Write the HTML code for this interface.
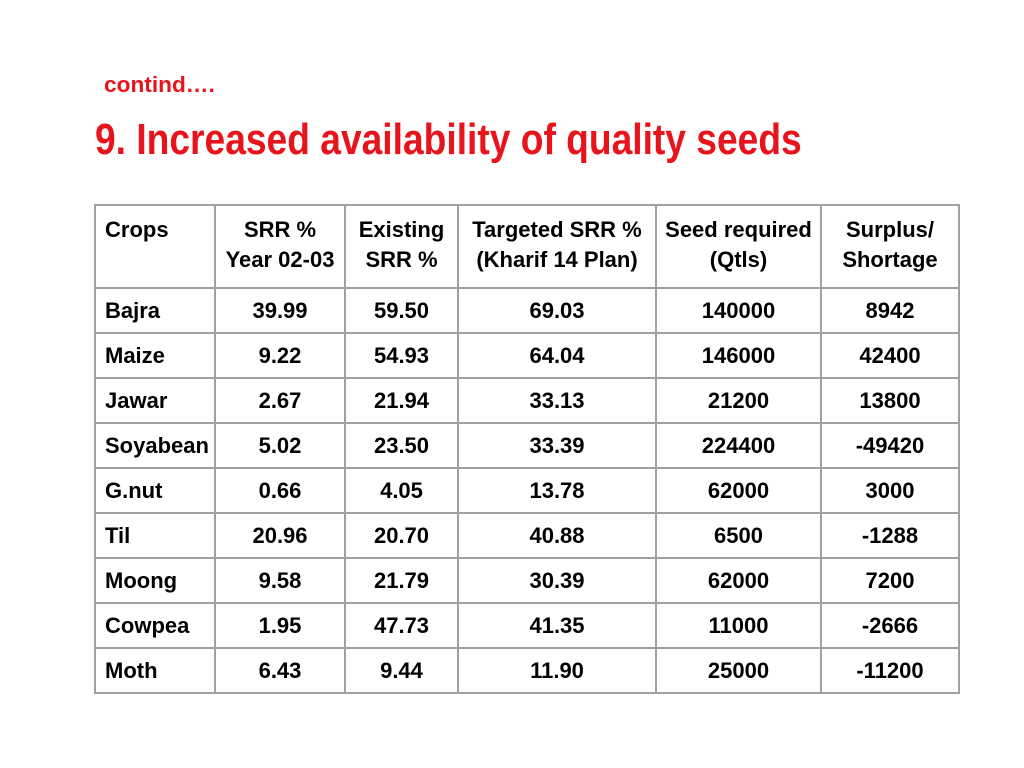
<!DOCTYPE html>
<html><head><meta charset="utf-8"><style>
body{margin:0;width:1024px;height:768px;background:#fff;position:relative;overflow:hidden;font-family:"Liberation Sans Narrow","Liberation Sans",sans-serif;font-weight:bold;}
.sub{position:absolute;left:104px;top:72px;color:#e8141b;font-size:22px;transform:scaleX(1.03);transform-origin:left top;}
.title{position:absolute;left:95px;top:115px;color:#e8141b;font-size:44px;white-space:nowrap;transform:scaleX(0.845);transform-origin:left top;}
table{position:absolute;left:94px;top:204px;border-collapse:collapse;font-size:22px;color:#000;}
td{border:2px solid #a0a0a0;text-align:center;padding:0;height:43px;line-height:26px;}
tr.h td{height:83px;vertical-align:top;padding-top:9px;line-height:30px;box-sizing:border-box;}
td:first-child{text-align:left;padding-left:9px;}
</style></head><body>
<div class="sub">contind….</div>
<div class="title">9. Increased availability of quality seeds</div>
<table>
<colgroup><col style="width:120px"><col style="width:130px"><col style="width:113px"><col style="width:198px"><col style="width:165px"><col style="width:138px"></colgroup>
<tr class="h"><td>Crops</td><td>SRR %<br>Year 02-03</td><td>Existing<br>SRR %</td><td>Targeted SRR %<br>(Kharif 14 Plan)</td><td>Seed required<br>(Qtls)</td><td>Surplus/<br>Shortage</td></tr>
<tr><td>Bajra</td><td>39.99</td><td>59.50</td><td>69.03</td><td>140000</td><td>8942</td></tr>
<tr><td>Maize</td><td>9.22</td><td>54.93</td><td>64.04</td><td>146000</td><td>42400</td></tr>
<tr><td>Jawar</td><td>2.67</td><td>21.94</td><td>33.13</td><td>21200</td><td>13800</td></tr>
<tr><td>Soyabean</td><td>5.02</td><td>23.50</td><td>33.39</td><td>224400</td><td>-49420</td></tr>
<tr><td>G.nut</td><td>0.66</td><td>4.05</td><td>13.78</td><td>62000</td><td>3000</td></tr>
<tr><td>Til</td><td>20.96</td><td>20.70</td><td>40.88</td><td>6500</td><td>-1288</td></tr>
<tr><td>Moong</td><td>9.58</td><td>21.79</td><td>30.39</td><td>62000</td><td>7200</td></tr>
<tr><td>Cowpea</td><td>1.95</td><td>47.73</td><td>41.35</td><td>11000</td><td>-2666</td></tr>
<tr><td>Moth</td><td>6.43</td><td>9.44</td><td>11.90</td><td>25000</td><td>-11200</td></tr>
</table>
</body></html>
